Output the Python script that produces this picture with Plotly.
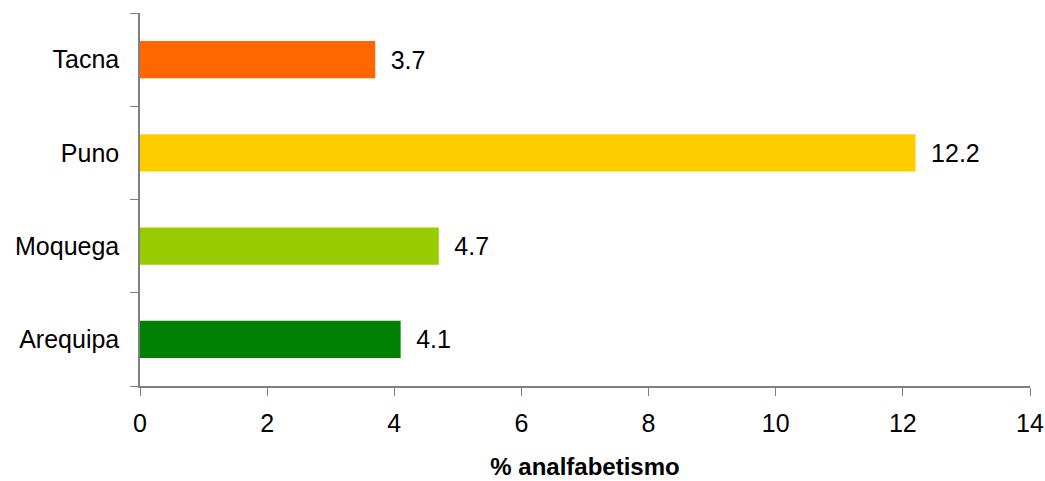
import plotly.graph_objects as go

regions = ["Arequipa", "Moquega", "Puno", "Tacna"]
values = [4.1, 4.7, 12.2, 3.7]
colors = ["#008000", "#99CC00", "#FFCC00", "#FF6600"]
x_ticks = [0, 2, 4, 6, 8, 10, 12, 14]

fig = go.Figure()
fig.add_trace(
    go.Bar(
        y=regions,
        x=values,
        orientation="h",
        marker=dict(color=colors, line=dict(width=0)),
        width=0.4,
        texttemplate="\u2002%{x:.1f}",
        textposition="outside",
        textfont=dict(size=25, color="black"),
        cliponaxis=False,
    )
)

fig.update_layout(
    width=1045,
    height=481,
    margin=dict(l=140, r=15, t=13, b=95),
    plot_bgcolor="white",
    paper_bgcolor="white",
    font=dict(family="Liberation Sans, Arial, sans-serif", size=25, color="black"),
    showlegend=False,
    xaxis=dict(
        range=[0, 14],
        tickvals=x_ticks,
        automargin=False,
        showgrid=False,
        zeroline=False,
        showline=True,
        linecolor="#808080",
        linewidth=1.5,
        ticks="outside",
        ticklen=8,
        tickcolor="#808080",
        tickfont=dict(size=25),
        ticklabelstandoff=6,
        title=dict(
            text="<b>% analfabetismo</b>",
            font=dict(size=24),
            standoff=22,
        ),
    ),
    yaxis=dict(
        type="category",
        categoryorder="array",
        categoryarray=regions,
        range=[-0.5, 3.5],
        tickson="boundaries",
        automargin=False,
        showgrid=False,
        zeroline=False,
        showline=True,
        linecolor="#808080",
        linewidth=1.5,
        ticks="outside",
        ticklen=8,
        tickcolor="#808080",
        tickfont=dict(size=25),
        ticklabelstandoff=14,
    ),
)

# drop the default 8px page margin so the figure fills the window
fig.write_html(
    "out.html",
    config={"displayModeBar": False},
    post_script="document.body.style.margin='0';document.body.style.overflow='hidden';",
)
